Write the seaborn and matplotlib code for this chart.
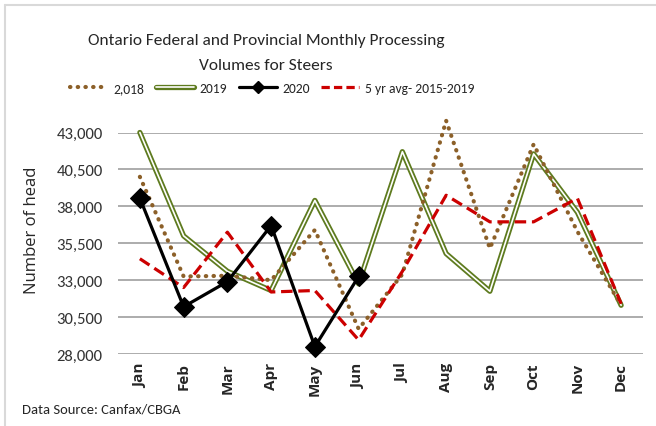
import matplotlib
matplotlib.use("Agg")
import matplotlib.pyplot as plt
from matplotlib import font_manager
from matplotlib.lines import Line2D
from matplotlib.legend_handler import HandlerTuple
import seaborn as sns
import pandas as pd

months = ["Jan", "Feb", "Mar", "Apr", "May", "Jun", "Jul", "Aug", "Sep", "Oct", "Nov", "Dec"]
v2018 = [40000, 33250, 33300, 33000, 36400, 29700, 33400, 43800, 35150, 42200, 36300, 31300]
v2019 = [43000, 36000, 33600, 32300, 38400, 32750, 41700, 34800, 32250, 41550, 37600, 31300]
v2020 = [38550, 31200, 32900, 36700, 28500, 33250]
v5yr = [34450, 32500, 36250, 32200, 32300, 28950, 33600, 38750, 36950, 36950, 38550, 31400]
yticks = [28000, 30500, 33000, 35500, 38000, 40500, 43000]

names = {f.name for f in font_manager.fontManager.ttflist}
def pick(*cands):
    for c in cands:
        if c in names:
            return c
    return "DejaVu Sans"
narrow = pick("Carlito", "Liberation Sans Narrow", "Open Sans", "DejaVu Sans")
tickfont = pick("Open Sans", "DejaVu Sans")

sns.set_style("white")
plt.rcParams["font.family"] = [narrow, "DejaVu Sans"]

fig = plt.figure(figsize=(6.56, 4.27), dpi=100)
ax = fig.add_axes([118/656, 1-355/427, 525/656, (355-133.5)/427])

df18 = pd.DataFrame({"month": months, "val": v2018})
df19 = pd.DataFrame({"month": months, "val": v2019})
df20 = pd.DataFrame({"month": months[:len(v2020)], "val": v2020})
df5 = pd.DataFrame({"month": months, "val": v5yr})

green = "#5E7B1F"
brown = "#8C6029"
red = "#CC0000"

sns.lineplot(data=df19, x="month", y="val", ax=ax, color=green, lw=3.8, sort=False, zorder=3)
sns.lineplot(data=df19, x="month", y="val", ax=ax, color="white", lw=1.2, sort=False, zorder=3.1)
sns.lineplot(data=df18, x="month", y="val", ax=ax, color=brown, lw=3.0, sort=False, zorder=4,
             linestyle=(0, (0.1, 1.75)), dash_capstyle="round")
sns.lineplot(data=df5, x="month", y="val", ax=ax, color=red, lw=2.3, sort=False, zorder=5,
             linestyle=(0, (3.6, 1.8)))
sns.lineplot(data=df20, x="month", y="val", ax=ax, color="black", lw=2.3, sort=False, zorder=6,
             marker="D", markersize=10, markeredgecolor="black")
for l in ax.lines:
    l.set_clip_on(False)

ax.set_xlim(-0.5, 11.5)
ax.set_ylim(28000, 43000)
ax.set_yticks(yticks)
ax.set_yticklabels([f"{v:,}" for v in yticks], fontsize=12, color="#333333")
ax.set_xticks(range(12))
ax.set_xticklabels(months, rotation=90, fontsize=11, fontweight="bold", family=[tickfont, "DejaVu Sans"])
ax.tick_params(axis="y", length=0, pad=11)
ax.tick_params(axis="x", length=0, pad=6)
ax.grid(axis="y", color="#A6A6A6", lw=1.3)
ax.set_axisbelow(True)
for s in ax.spines.values():
    s.set_visible(False)
ax.set_xlabel("")
ax.set_ylabel("Number of head", fontsize=12, family=[tickfont, "DejaVu Sans"])
ax.yaxis.set_label_coords((40 - 118) / 525, (355 - 230) / 221.5)

fig.text(266/656, 1-41/427, "Ontario Federal and Provincial Monthly Processing", ha="center", va="center", fontsize=12.5)
fig.text(266/656, 1-66/427, "Volumes for Steers", ha="center", va="center", fontsize=12.5)

h18 = Line2D([], [], color=brown, lw=3.0, linestyle=(0, (0.1, 1.75)), dash_capstyle="round")
h19 = (Line2D([], [], color=green, lw=3.8), Line2D([], [], color="white", lw=1.2))
h20 = Line2D([], [], color="black", lw=2.3, marker="D", markersize=6)
h5 = Line2D([], [], color=red, lw=2.3, linestyle=(0, (2.6, 1.3)))
fig.legend([h18, h19, h20, h5], ["2,018", "2019", "2020", "5 yr avg- 2015-2019"],
           handler_map={tuple: HandlerTuple(ndivide=1, pad=0)},
           loc="center", bbox_to_anchor=(272/656, 1-89/427), ncol=4, frameon=False,
           fontsize=9.8, handlelength=2.8, handletextpad=0.4, columnspacing=0.85)

fig.text(22/656, 1-410/427, "Data Source: Canfax/CBGA", ha="left", va="center", fontsize=10.5)

# light frame lines (top and left)
fig.add_artist(Line2D([5/656, 5/656], [0, 1-6/427], color="#D9D9D9", lw=1.5, transform=fig.transFigure))
fig.add_artist(Line2D([5/656, 1], [1-6/427, 1-6/427], color="#D9D9D9", lw=1.5, transform=fig.transFigure))

fig.savefig("out.png", dpi=100)
